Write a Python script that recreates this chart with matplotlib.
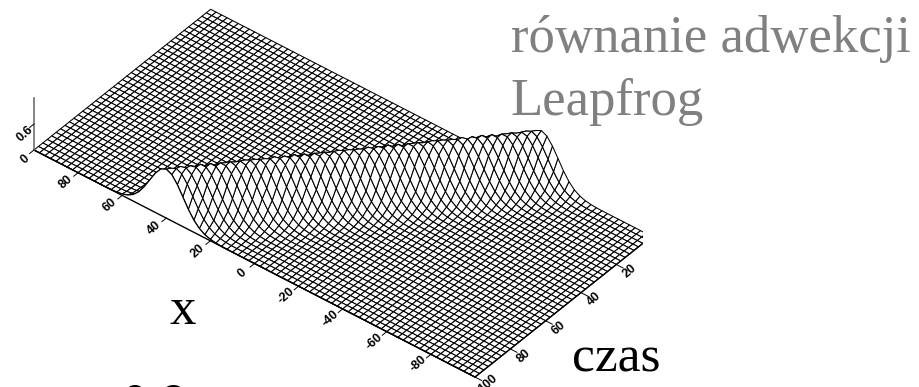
#-*- encoding=utf-8 -*-
import numpy as np
import matplotlib
matplotlib.use('Agg')
import matplotlib.pyplot as plt
from mpl_toolkits.mplot3d import proj3d
from mpl_toolkits.mplot3d.art3d import Poly3DCollection

# siatka: x co 2.5, czas co 2.5
x_grid = np.arange(-100, 100.1, 2.5)
t_grid = np.arange(0, 100.1, 2.5)

# przekroj grzbietu (odczyt z rysunku), od srodka na zewnatrz, krok 0.625 w x
ridge_half = [1.13, 1.126, 1.114, 1.095, 1.069, 1.036, 0.997, 0.954, 0.905, 0.853,
              0.799, 0.742, 0.686, 0.628, 0.572, 0.518, 0.464, 0.415, 0.367, 0.323,
              0.281, 0.244, 0.211, 0.180, 0.153, 0.129, 0.108, 0.090, 0.075, 0.061,
              0.050, 0.041, 0.033, 0.026, 0.020, 0.016, 0.012, 0.009, 0.007, 0.005,
              0.003, 0.002, 0.001]
# polozenie grzbietu dla kazdej linii czasu, w krokach 0.625
crest = [-80, -76, -73, -69, -66, -62, -58, -55, -51, -48, -44, -40, -37, -33,
         -30, -26, -22, -19, -15, -12, -8, -4, -1, 3, 6, 10, 14, 17, 21, 24,
         28, 32, 35, 39, 42, 46, 50, 53, 57, 60, 64]

x_ticks = [80, 60, 40, 20, 0, -20, -40, -60, -80]
t_ticks = [20, 40, 60, 80, 100]
z_ticks = [0, 0.6]

title_lines = ['równanie adwekcji', 'Leapfrog']

W, H = 920, 387
X, T = np.meshgrid(x_grid, t_grid)
Z = np.zeros(X.shape)
for i in range(len(t_grid)):
    for j in range(len(x_grid)):
        k = abs(int(round(x_grid[j] / 0.625)) - crest[i])
        if k < len(ridge_half):
            Z[i, j] = ridge_half[k]

fig = plt.figure(figsize=(W / 100, H / 100), dpi=100, facecolor='white')
ax = fig.add_axes([0, 0, 1, 1], projection='3d')
ax.set_proj_type('ortho')
ax.view_init(elev=39.82, azim=128.8)
ax.set_box_aspect((566, 282, 67.7))
ax.computed_zorder = False
ax.set_axis_off()
ax.plot_surface(X, T, Z, rstride=1, cstride=1, color='white', edgecolor='black',
                linewidth=0.75, shade=False, zorder=1)

# biala sciana pod przekrojem na koncu czasu, zaslania spod powierzchni
end_row = np.column_stack([x_grid, np.full(len(x_grid), 100.0), Z[-1]])
end_base = np.column_stack([x_grid[::-1], np.full(len(x_grid), 100.0), np.zeros(len(x_grid))])
wall = Poly3DCollection([np.vstack([end_row, end_base])], facecolor='white',
                        edgecolor='none', zorder=1.5)
ax.add_collection3d(wall)
ax.plot(x_grid, np.full(len(x_grid), 100.0), Z[-1], color='black', lw=0.9, zorder=2)

ax.set_xlim(-100, 100)
ax.set_ylim(0, 100)
ax.set_zlim(0, 1.2)

# os x i czasu
ax.plot([100, -100], [100, 100], [0, 0], color='black', lw=1.0, zorder=2)
ax.plot([-100, -100], [100, 0], [0, 0], color='black', lw=1.0, zorder=2)
ax.plot([100, 100], [100, 100], [0, 1.2], color='#707070', lw=1.2, zorder=2)

for v in x_ticks:
    ax.plot([v, v], [100, 102.5], [0, 0], color='black', lw=0.7, zorder=2)
for v in t_ticks:
    ax.plot([-100, -103], [v, v], [0, 0], color='black', lw=0.7, zorder=2)
for v in z_ticks:
    ax.plot([100, 100], [100, 102.5], [v, v], color='black', lw=0.7, zorder=2)


def to_px(xs, ts, zs):
    fig.canvas.draw()
    a, b, _ = proj3d.proj_transform(np.array(xs, dtype=float), np.array(ts, dtype=float),
                                    np.array(zs, dtype=float), ax.get_proj())
    return ax.transData.transform(np.column_stack([a, b]))


# dopasowanie osi tak zeby naroznik A i D wypadly jak na oryginale
p = to_px([100, -100], [100, 100], [0, 0])
S = H * 441.0 / (p[1, 0] - p[0, 0])
ax.set_position([0, 0, S / W, S / H])
p = to_px([100, -100], [100, 100], [0, 0])
dx = 34 - p[0, 0]
dy = (H - 150) - p[0, 1]
ax.set_position([dx / W, dy / H, S / W, S / H])


def tick_label(x, t, z, s):
    p = to_px([x], [t], [z])[0]
    fig.text(p[0] / W, p[1] / H, s, family='Liberation Sans', weight='bold', size=9,
             color='black', ha='center', va='center', rotation=42, rotation_mode='anchor')


for v in x_ticks:
    tick_label(v, 107, 0, str(v))
for v in t_ticks:
    tick_label(-106, v, 0, str(v))
for v in z_ticks:
    tick_label(100, 105, v - 0.06, str(v))

serif = 'Liberation Serif'
fig.text(511 / W, 1 - 52 / H, title_lines[0], family=serif, size=38, color='#808080')
fig.text(511 / W, 1 - 115 / H, title_lines[1], family=serif, size=38, color='#808080')
fig.text(170 / W, 1 - 324 / H, 'x', family=serif, size=38, color='black')
fig.text(572 / W, 1 - 371 / H, 'czas', family=serif, size=37, color='black')
fig.text(122 / W, 1 - 419 / H, '0.9', family=serif, size=37.5, color='black')

fig.savefig('out.png', dpi=100)
